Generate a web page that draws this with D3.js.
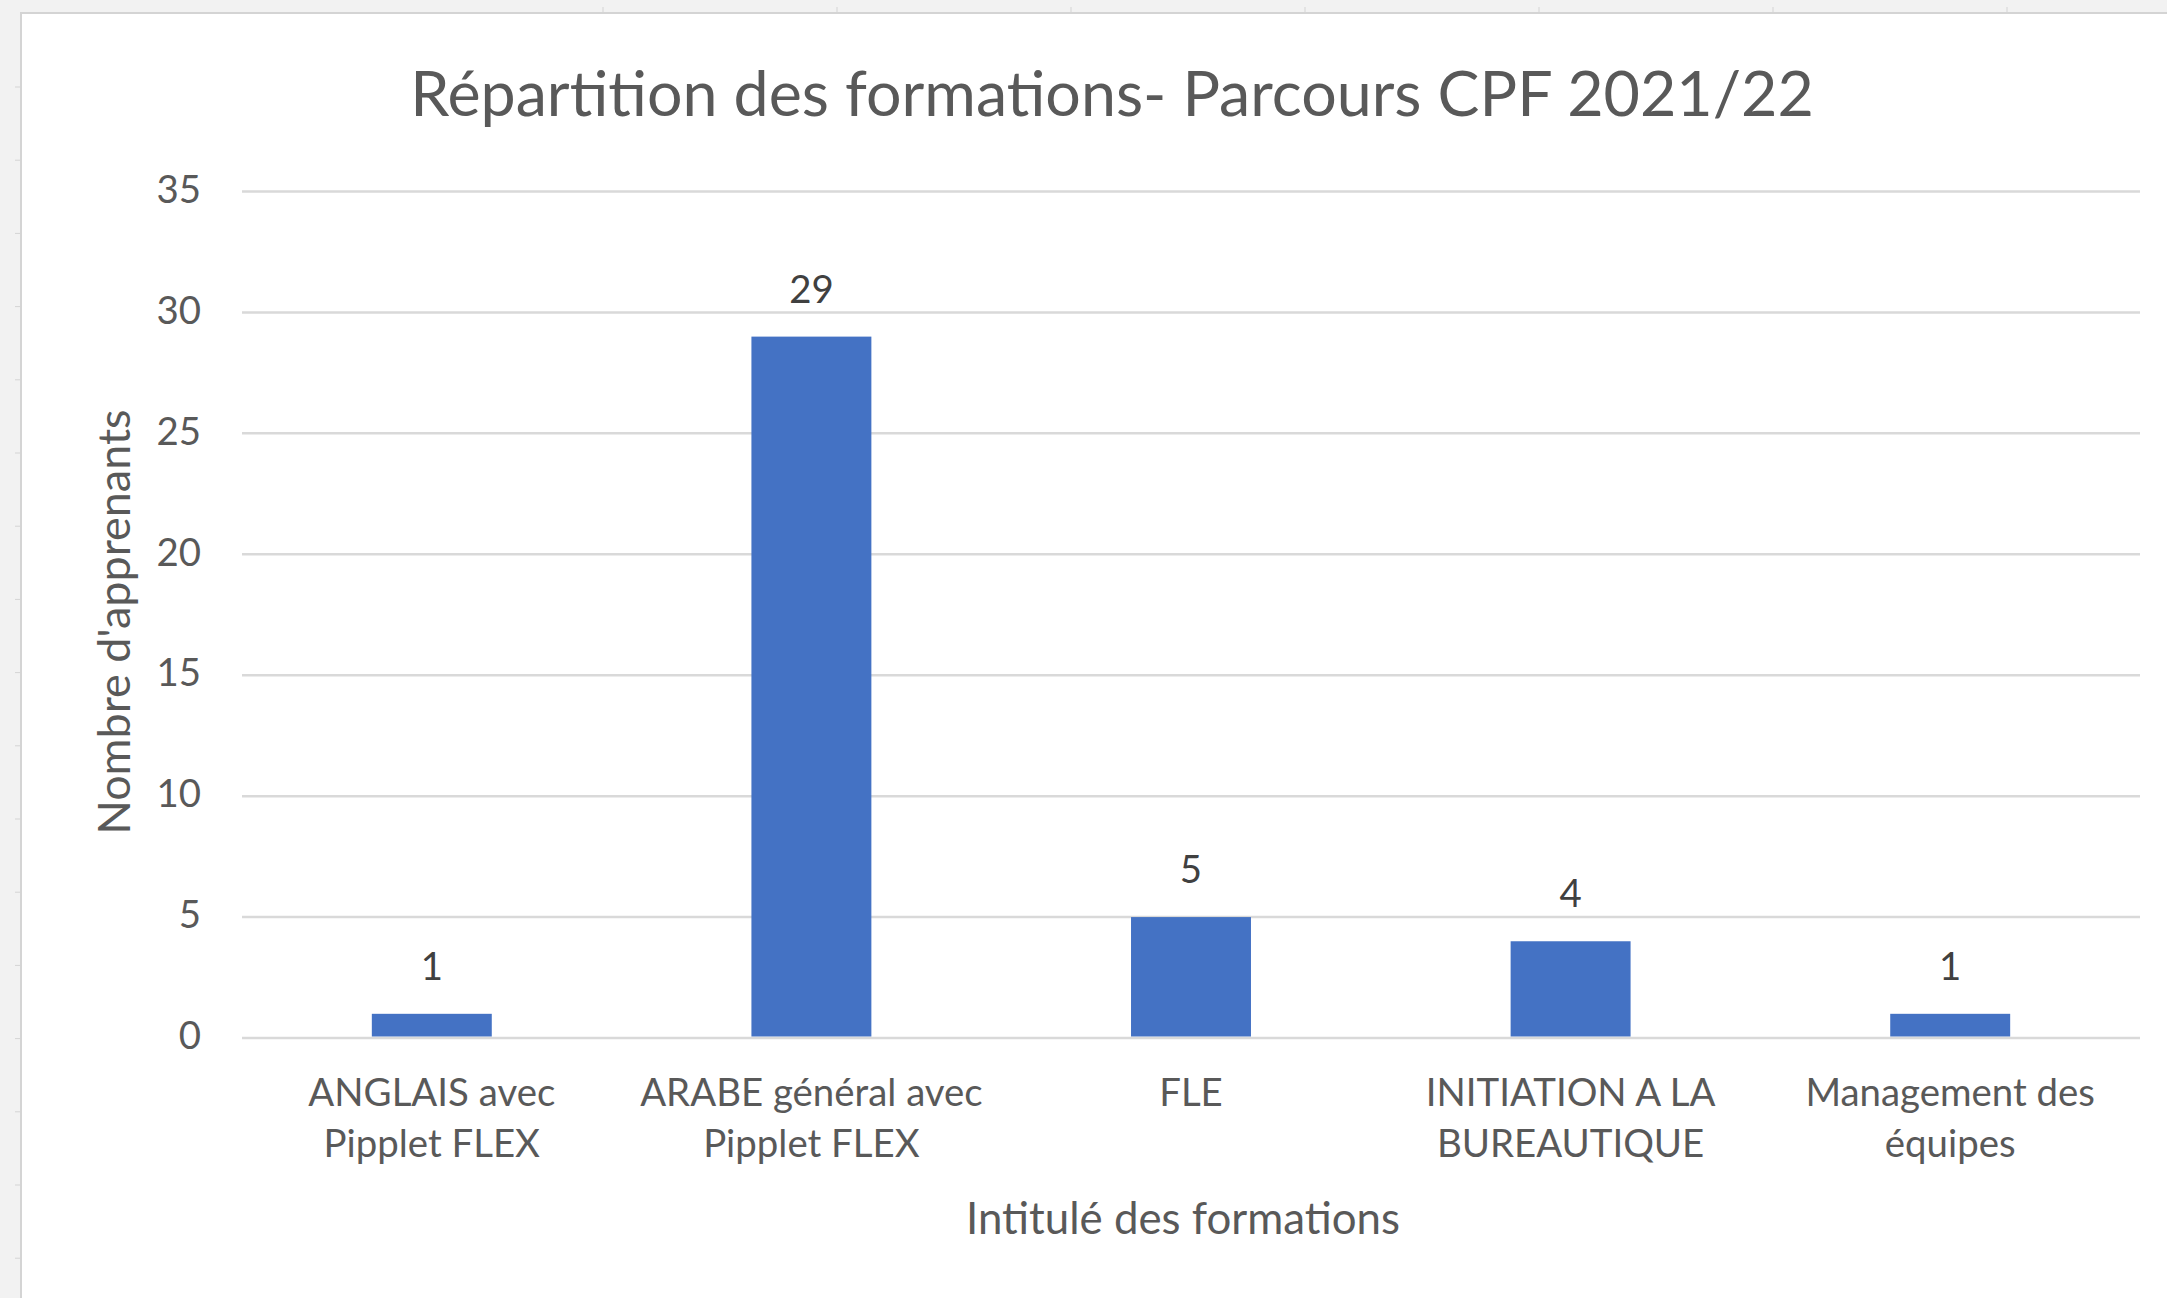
<!DOCTYPE html>
<html>
<head>
<meta charset="utf-8">
<script src="https://cdn.jsdelivr.net/npm/d3@7"></script>
<style>
  html, body { margin: 0; padding: 0; background: #f2f2f2; }
  svg { display: block; }
  text { font-family: Lato, "Noto Sans", sans-serif; }
</style>
</head>
<body>
<div id="chart"></div>
<script>
  // Data
  const categories = [
    ['ANGLAIS avec', 'Pipplet FLEX'],
    ['ARABE général avec', 'Pipplet FLEX'],
    ['FLE'],
    ['INITIATION A LA', 'BUREAUTIQUE'],
    ['Management des', 'équipes'],
  ];
  const values = [1, 29, 5, 4, 1];
  const yTicks = [0, 5, 10, 15, 20, 25, 30, 35];

  const titleText = 'Répartition des formations- Parcours CPF 2021/22';
  const xTitleText = 'Intitulé des formations';
  const yTitleText = "Nombre d'apprenants";

  const W = 2167, H = 1298;
  const margin = { top: 191.5, right: 27, bottom: 260, left: 242 };
  const w = W - margin.left - margin.right;
  const h = H - margin.top - margin.bottom;

  // shrink or grow a text's font so its width matches the reference
  function fitWidth(sel, target, node) {
    const size = parseFloat(sel.attr('font-size'));
    const len = (node || sel.node()).getComputedTextLength();
    sel.attr('font-size', (size * target / len).toFixed(2));
    return size * target / len;
  }

  const svg = d3.select('#chart').append('svg')
    .attr('width', W)
    .attr('height', H);

  // sheet frame: white chart area over the grey workbook
  svg.append('rect')
    .attr('x', 22).attr('y', 14)
    .attr('width', W - 22).attr('height', H - 14)
    .attr('fill', '#fff');
  svg.append('line')
    .attr('x1', 21).attr('x2', 21).attr('y1', 12).attr('y2', H)
    .attr('stroke', '#d4d4d4').attr('stroke-width', 2);
  svg.append('line')
    .attr('x1', 21).attr('x2', W).attr('y1', 13).attr('y2', 13)
    .attr('stroke', '#d4d4d4').attr('stroke-width', 2);
  svg.selectAll('.rowtick')
    .data(d3.range(87, H, 73.2))
    .join('line')
    .attr('x1', 15).attr('x2', 21)
    .attr('y1', d => d).attr('y2', d => d)
    .attr('stroke', '#d4d4d4').attr('stroke-width', 1);
  svg.selectAll('.coltick')
    .data(d3.range(603, W, 234))
    .join('line')
    .attr('x1', d => d).attr('x2', d => d)
    .attr('y1', 7).attr('y2', 13)
    .attr('stroke', '#d4d4d4').attr('stroke-width', 1);

  const g = svg.append('g').attr('transform', `translate(${margin.left},${margin.top})`);

  const x = d3.scaleBand()
    .domain(d3.range(categories.length))
    .range([0, w])
    .paddingInner(0.684)
    .paddingOuter(0.342);
  const y = d3.scaleLinear()
    .domain([0, 35])
    .range([h, 0]);

  g.selectAll('.grid')
    .data(yTicks)
    .join('line')
    .attr('x1', 0)
    .attr('x2', w)
    .attr('y1', d => y(d))
    .attr('y2', d => y(d))
    .attr('stroke', '#d9d9d9')
    .attr('stroke-width', 2.5);

  g.selectAll('.bar')
    .data(values)
    .join('rect')
    .attr('x', (d, i) => x(i))
    .attr('y', d => y(d))
    .attr('width', x.bandwidth())
    .attr('height', d => y(0) - y(d) - 1.5)
    .attr('fill', '#4472c4');

  // y axis labels
  const yAxis = g.append('g')
    .call(d3.axisLeft(y).tickValues(yTicks).tickSize(0).tickPadding(41))
    .call(s => s.select('.domain').remove());
  yAxis.selectAll('text')
    .attr('fill', '#595959')
    .attr('font-family', 'Lato, "Noto Sans", sans-serif')
    .attr('font-size', 40)
    .attr('dy', '0.28em');

  // x axis labels (two lines)
  const xLabels = g.selectAll('.xlab')
    .data(categories)
    .join('text')
    .attr('class', 'xlab')
    .attr('x', (d, i) => x(i) + x.bandwidth() / 2)
    .attr('y', h + 68)
    .attr('text-anchor', 'middle')
    .attr('fill', '#595959')
    .attr('font-size', 40);
  xLabels.selectAll('tspan')
    .data(d => d)
    .join('tspan')
    .attr('x', function () { return this.parentNode.getAttribute('x'); })
    .attr('dy', (d, i) => (i === 0 ? 0 : 51))
    .text(d => d);
  const refTspan = xLabels.filter((d, i) => i === 0).select('tspan').node();
  const tickSize = fitWidth(xLabels.filter((d, i) => i === 0), 247, refTspan);
  xLabels.attr('font-size', tickSize.toFixed(2));
  yAxis.selectAll('text').attr('font-size', tickSize.toFixed(2));

  // data labels
  g.selectAll('.value')
    .data(values)
    .join('text')
    .attr('x', (d, i) => x(i) + x.bandwidth() / 2)
    .attr('y', d => y(d) - 34)
    .attr('text-anchor', 'middle')
    .attr('fill', '#404040')
    .attr('font-size', tickSize.toFixed(2))
    .text(d => d);

  // chart title
  const title = svg.append('text')
    .attr('x', 1112)
    .attr('y', 116)
    .attr('text-anchor', 'middle')
    .attr('fill', '#595959')
    .attr('font-size', 64)
    .text(titleText);
  fitWidth(title, 1404);

  // axis titles
  const xTitle = svg.append('text')
    .attr('x', 1183)
    .attr('y', 1234)
    .attr('text-anchor', 'middle')
    .attr('fill', '#595959')
    .attr('font-size', 44)
    .text(xTitleText);
  fitWidth(xTitle, 434);

  const yTitle = svg.append('text')
    .attr('transform', 'translate(130,622) rotate(-90)')
    .attr('text-anchor', 'middle')
    .attr('fill', '#595959')
    .attr('font-size', 44)
    .text(yTitleText);
  fitWidth(yTitle, 425);
</script>
</body>
</html>
